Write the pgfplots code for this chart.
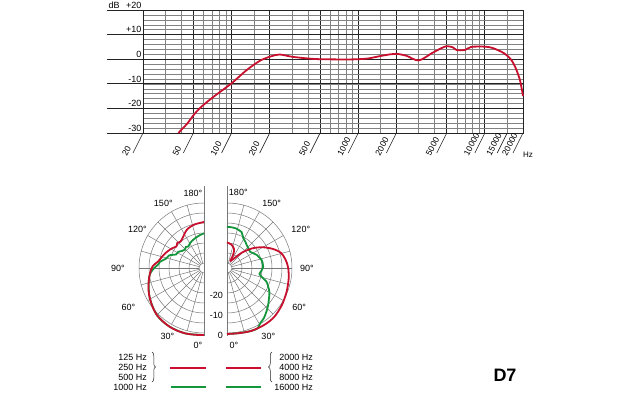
\documentclass[border=0pt]{standalone}
\usepackage{fontspec}
\setmainfont{Liberation Sans}
\usepackage{pgfplots}
\usepackage{pgfplotstable}
\pgfplotsset{compat=1.18}
\usetikzlibrary{decorations.pathreplacing}
\definecolor{akred}{RGB}{200,16,46}
\definecolor{akgreen}{RGB}{20,150,60}
\definecolor{gridminor}{RGB}{130,130,130}
\definecolor{gridmajor}{RGB}{35,35,35}
\definecolor{polgrid}{RGB}{120,120,120}

% frequency response (Hz, dB)
\pgfplotstableread{
f db
38 -30
45 -26
50 -22.8
57 -19.6
72 -15.3
100 -9.8
131 -4.5
168 -0.6
206 1.2
240 1.9
300 1.0
400 0.3
500 0
800 -0.1
1000 0
1200 0.3
1500 1.3
1800 2.0
2000 2.2
2400 1.4
3000 -0.5
3800 2.4
4500 4.4
5000 5.3
5600 4.8
6000 3.7
7000 3.8
7800 5.0
10000 5.1
11600 4.5
14200 2.4
16000 0.0
17300 -3.0
18900 -8.4
20000 -15.0
}\freqresp

% left half, red: 125/250/500 Hz (angle deg, dB)
\pgfplotstableread{
a db
0 1.0
8 1.2
16 1.5
24 1.6
31 1.5
38 1.2
45 0.8
53 -0.3
61 -1.5
68 -2.6
76 -4.0
84 -5.3
92 -6.8
98 -9.3
104 -10.6
111 -11.8
121 -13.6
128 -15.0
133 -14.2
138 -14.8
145 -14.0
152 -12.4
158 -11.2
168 -10.2
180 -9.5
}\leftred

% left half, green: 1000 Hz
\pgfplotstableread{
a db
0 1.0
16 1.5
31 1.5
45 0.8
61 -1.5
76 -4.0
84 -5.4
90 -7.6
94 -9.4
98 -10.3
104 -13.0
110 -14.0
116 -17.0
122 -17.3
128 -18.6
134 -19.3
139 -18.6
144 -19.2
150 -18.3
155 -17.8
160 -17.3
167 -16.6
174 -15.8
180 -15.2
}\leftgreen

% right half, red: 2000/4000/8000 Hz (front arm)
\pgfplotstableread{
a db
0 0.5
10 0.6
21 1.2
33 1.5
44 1.5
56 0.6
68 -0.4
80 -1.2
90 -1.9
98 -2.9
106 -4.6
113 -7.9
120.6 -12.1
128 -16.6
135.8 -21.7
141.6 -25.8
154.7 -28.8
}\rightredA

% right half, red: rear lobe
\pgfplotstableread{
a db
154.7 -28.8
155.2 -27.6
155.2 -24.9
159.6 -22.4
169.1 -20.6
180 -19.7
}\rightredB

% right half, green: 16000 Hz
\pgfplotstableread{
a db
0 0.5
10 0.6
21 1.2
27 1.3
31 -0.3
36 -1.3
41 -2.8
47 -4.5
53 -6.3
60 -8.0
66 -10.0
71 -11.7
76 -14.8
80 -16.0
85 -15.3
92 -14.4
98 -14.5
103 -14.7
108 -15.5
114 -16.3
120 -17.6
125 -18.4
132 -18.0
139 -17.4
145 -16.5
151 -15.6
155 -14.2
158 -13.1
163 -12.6
167 -12.2
174 -12.0
180 -11.9
}\rightgreen

\begin{document}
\begin{tikzpicture}[x=1pt,y=1pt,font=\fontsize{9}{10}\selectfont]
\useasboundingbox (0,0) rectangle (640,400);

% ---------------- frequency response ----------------
\begin{axis}[
  at={(143pt,267pt)}, anchor=south west, scale only axis,
  width=380pt, height=123pt,
  xmode=log, xmin=20, xmax=20000, ymin=-30, ymax=20,
  xtick={20,50,100,200,500,1000,2000,5000,10000,20000},
  minor xtick={30,40,60,70,80,90,150,300,400,600,700,800,900,1500,3000,4000,6000,7000,8000,9000,15000},
  xticklabels={},
  ytick={-30,-20,-10,0,10,20},
  yticklabels={-30,-20,-10,0,+10,+20},
  minor ytick={-28,-26,...,18},
  grid=both,
  major grid style={gridmajor, line width=0.8pt},
  minor grid style={gridminor, line width=0.4pt},
  major tick length=0pt, minor tick length=0pt,
  axis line style={gridmajor, line width=0.9pt},
  yticklabel style={anchor=south east, inner sep=1.5pt, font=\fontsize{9}{10}\selectfont},
  /pgf/number format/assume math mode=true,
  clip=false,
]
\addplot[akred, line width=1.8pt, smooth, tension=0.5] table[x=f, y=db] {\freqresp};
\pgfplotsinvokeforeach{0,0.2,0.4,0.6,0.8,1}{
  \draw[gridmajor, line width=0.8pt] (rel axis cs:-0.095,#1) -- (rel axis cs:0,#1);
}
\node[anchor=south west, inner sep=1.5pt] at (rel axis cs:-0.095,1) {dB};
\pgfplotsinvokeforeach{20,50,100,200,500,1000,2000,5000,10000,15000,20000}{
  \draw[gridmajor, line width=0.6pt] (axis cs:#1,-30) -- ++(-10pt,-20pt);
  \path (axis cs:#1,-30) ++(-16pt,-23.5pt) node[rotate=62, anchor=south west, inner sep=0pt, font=\fontsize{8.5}{10}\selectfont] {#1};
}
\path (rel axis cs:1,0) ++(0pt,-22pt) node[anchor=west, inner sep=0pt, font=\fontsize{8}{10}\selectfont] {Hz};
\end{axis}

% ---------------- polar, left half ----------------
\begin{axis}[
  at={(204pt,132pt)}, anchor=center, x=1pt, y=1pt,
  xmin=-90, xmax=90, ymin=-90, ymax=90, hide axis, clip=false,
]
\pgfplotsinvokeforeach{5,15,25,35,45,55,65}{
  \draw[polgrid, line width=0.5pt] (axis cs:0,#1) arc[start angle=90, end angle=270, radius=#1pt];
}
\pgfplotsinvokeforeach{105,120,135,150,165,180,195,210,225,240,255}{
  \draw[polgrid, line width=0.5pt] (axis cs:0,0) ++(#1:5pt) -- ++(#1:60pt);
}
\draw[polgrid, line width=0.6pt] (axis cs:0,-68) -- (axis cs:0,82);
\addplot[akgreen, line width=1.8pt, smooth, tension=0.5, data cs=polar]
  table[x expr=270-\thisrow{a}, y expr=65+2*\thisrow{db}] {\leftgreen};
\addplot[akred, line width=1.8pt, smooth, tension=0.5, data cs=polar]
  table[x expr=270-\thisrow{a}, y expr=65+2*\thisrow{db}] {\leftred};
\end{axis}

% ---------------- polar, right half ----------------
\begin{axis}[
  at={(227pt,132pt)}, anchor=center, x=1pt, y=1pt,
  xmin=-90, xmax=90, ymin=-90, ymax=90, hide axis, clip=false,
]
\pgfplotsinvokeforeach{5,15,25,35,45,55,65}{
  \draw[polgrid, line width=0.5pt] (axis cs:0,#1) arc[start angle=90, end angle=-90, radius=#1pt];
}
\pgfplotsinvokeforeach{-75,-60,-45,-30,-15,0,15,30,45,60,75}{
  \draw[polgrid, line width=0.5pt] (axis cs:0,0) ++(#1:5pt) -- ++(#1:60pt);
}
\draw[polgrid, line width=0.6pt] (axis cs:0,-68) -- (axis cs:0,82);
\addplot[akgreen, line width=1.8pt, smooth, tension=0.5, data cs=polar]
  table[x expr=\thisrow{a}-90, y expr=65+2*\thisrow{db}] {\rightgreen};
\addplot[akred, line width=1.8pt, smooth, tension=0.5, data cs=polar]
  table[x expr=\thisrow{a}-90, y expr=65+2*\thisrow{db}] {\rightredA};
\addplot[akred, line width=1.8pt, smooth, tension=0.5, data cs=polar]
  table[x expr=\thisrow{a}-90, y expr=65+2*\thisrow{db}] {\rightredB};
\end{axis}

% angle labels
\node at (193,207) {180°};
\node at (163.3,196.7) {150°};
\node at (137.5,170.7) {120°};
\node at (118,132) {90°};
\node at (128.5,92.3) {60°};
\node at (167.5,63.3) {30°};
\node at (198,55) {0°};
\node at (238.3,207.3) {180°};
\node at (271.7,196.7) {150°};
\node at (300.8,170.7) {120°};
\node at (307,132) {90°};
\node at (299.2,92.3) {60°};
\node at (268.3,63.3) {30°};
\node at (234,55) {0°};
% dB labels
\node[anchor=east, inner sep=0pt] at (223,105) {-20};
\node[anchor=east, inner sep=0pt] at (223,85) {-10};
\node[anchor=east, inner sep=0pt] at (223,65) {0};

% legend
\node[anchor=east, inner sep=0pt] at (147,43) {125 Hz};
\node[anchor=east, inner sep=0pt] at (147,33) {250 Hz};
\node[anchor=east, inner sep=0pt] at (147,23) {500 Hz};
\node[anchor=east, inner sep=0pt] at (147,13) {1000 Hz};
\draw[gridmajor, line width=0.5pt, decorate, decoration={brace, amplitude=3.5pt}] (152,48) -- (152,18);
\draw[akred, line width=2pt] (170,32.3) -- (206,32.3);
\draw[akgreen, line width=2pt] (171,12.7) -- (206,12.7);
\draw[akred, line width=2pt] (226,32.3) -- (261,32.3);
\draw[akgreen, line width=2pt] (226,12.7) -- (261,12.7);
\draw[gridmajor, line width=0.5pt, decorate, decoration={brace, amplitude=3.5pt}] (272,18) -- (272,48);
\node[anchor=east, inner sep=0pt] at (313,43) {2000 Hz};
\node[anchor=east, inner sep=0pt] at (313,33) {4000 Hz};
\node[anchor=east, inner sep=0pt] at (313,23) {8000 Hz};
\node[anchor=east, inner sep=0pt] at (313,13) {16000 Hz};

\node[font=\fontsize{18}{20}\selectfont\bfseries] at (505,25) {D7};
\end{tikzpicture}
\end{document}
